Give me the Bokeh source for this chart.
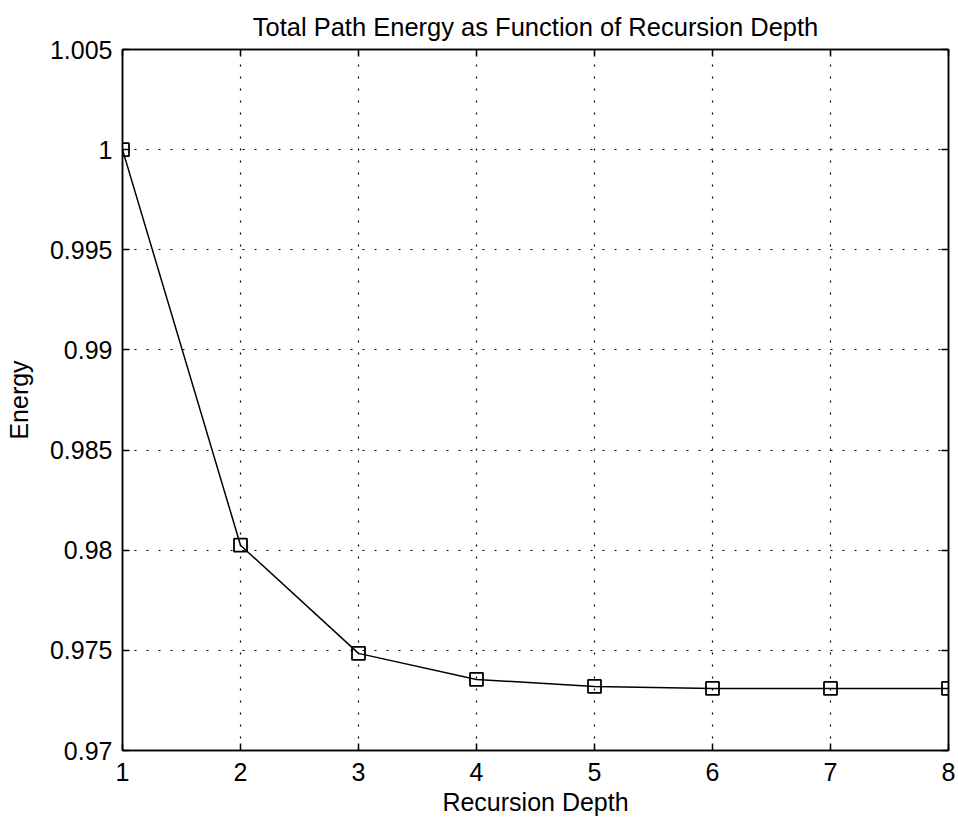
from bokeh.plotting import figure
from bokeh.models import LinearAxis, FixedTicker, CustomJSTickFormatter, Range1d
from bokeh.embed import file_html
from bokeh.resources import INLINE

depth = [1, 2, 3, 4, 5, 6, 7, 8]
energy = [1.0, 0.98025, 0.97485, 0.97355, 0.9732, 0.9731, 0.9731, 0.9731]
x_ticks = [1, 2, 3, 4, 5, 6, 7, 8]
y_ticks = [0.97, 0.975, 0.98, 0.985, 0.99, 0.995, 1.0, 1.005]

FONT = "Liberation Sans"

p = figure(frame_width=826, frame_height=701,
           min_border_left=122, min_border_right=10,
           min_border_top=49, min_border_bottom=70,
           output_backend="svg", toolbar_location=None,
           x_range=Range1d(1, 8), y_range=Range1d(0.97, 1.005),
           title="Total Path Energy as Function of Recursion Depth")

p.background_fill_color = "white"
p.border_fill_color = "white"
p.outline_line_color = "black"
p.outline_line_width = 1.5

p.title.align = "center"
p.title.text_font = FONT
p.title.text_font_size = "25.5px"
p.title.text_font_style = "normal"
p.title.text_color = "black"
p.title.standoff = 18

fmt = CustomJSTickFormatter(code="return Number(tick.toFixed(3)).toString();")
blank = CustomJSTickFormatter(code="return '';")

for ax in p.xaxis:
    ax.ticker = FixedTicker(ticks=x_ticks)
    ax.axis_label = "Recursion Depth"
for ax in p.yaxis:
    ax.ticker = FixedTicker(ticks=y_ticks)
    ax.formatter = fmt
    ax.axis_label = "Energy"

for ax in list(p.xaxis) + list(p.yaxis):
    ax.major_tick_in = 7
    ax.major_tick_out = 0
    ax.minor_tick_in = 0
    ax.minor_tick_out = 0
    ax.axis_line_color = "black"
    ax.axis_line_width = 1.5
    ax.major_tick_line_color = "black"
    ax.major_tick_line_width = 1.5
    ax.major_label_text_font = FONT
    ax.major_label_text_font_size = "25px"
    ax.major_label_text_color = "black"
    ax.axis_label_text_font = FONT
    ax.axis_label_text_font_size = "25px"
    ax.axis_label_text_font_style = "normal"
    ax.axis_label_text_color = "black"

p.xaxis.major_label_standoff = 12
p.xaxis.axis_label_standoff = 4
p.yaxis.major_label_standoff = 10
p.yaxis.axis_label_standoff = 14

# box axes (top/right) with inward ticks and no labels
top = LinearAxis(ticker=FixedTicker(ticks=x_ticks), formatter=blank)
right = LinearAxis(ticker=FixedTicker(ticks=y_ticks), formatter=blank)
for ax in (top, right):
    ax.major_tick_in = 7
    ax.major_tick_out = 0
    ax.minor_tick_in = 0
    ax.minor_tick_out = 0
    ax.axis_line_color = "black"
    ax.axis_line_width = 1.5
    ax.major_tick_line_color = "black"
    ax.major_tick_line_width = 1.5
    ax.major_label_standoff = 0
p.add_layout(top, "above")
p.add_layout(right, "right")

for g in (p.xgrid, p.ygrid):
    g.grid_line_color = "black"
    g.grid_line_width = 1.2
    g.grid_line_dash = "2 10"
p.xgrid.ticker = FixedTicker(ticks=x_ticks)
p.ygrid.ticker = FixedTicker(ticks=y_ticks)

p.line(depth, energy, line_color="black", line_width=1.5)
p.scatter(depth, energy, marker="square", size=13, fill_color=None,
          line_color="black", line_width=1.8)

open("out.html", "w").write(file_html(p, INLINE))
